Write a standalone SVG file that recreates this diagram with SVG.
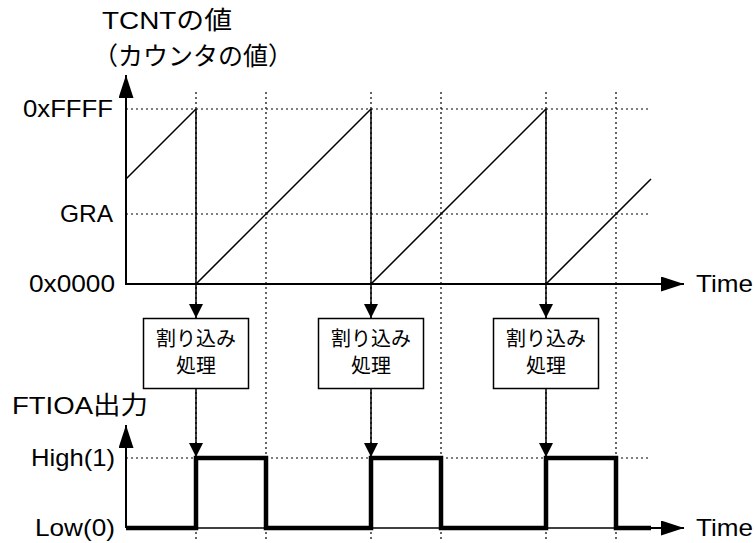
<svg xmlns="http://www.w3.org/2000/svg" width="755" height="543" viewBox="0 0 755 543">
<style>
text{font-family:"Liberation Sans","Noto Sans CJK JP",sans-serif;fill:#000}
.l{font-size:24.500px}
.r{font-size:24.500px;text-anchor:end}
.b{font-size:20px;text-anchor:middle}
.dot{fill:none;stroke:#000;stroke-width:1.2;stroke-dasharray:2 3}
.ax{fill:none;stroke:#000;stroke-width:2}
.thin{fill:none;stroke:#000;stroke-width:1.5}
.sig{fill:none;stroke:#000;stroke-width:4.500}
.box{fill:#fff;stroke:#000;stroke-width:1.5}
</style>
<defs>
<marker id="big" markerUnits="userSpaceOnUse" markerWidth="24" markerHeight="16" refX="23" refY="7.500" orient="auto"><path d="M0 0L23 7.500L0 15Z" fill="#000"/></marker>
<marker id="small" markerUnits="userSpaceOnUse" markerWidth="15" markerHeight="15" refX="14" refY="7" orient="auto"><path d="M0 0L14 7L0 14Z" fill="#000"/></marker>
</defs>
<g id="grid">
<path class="dot" d="M126 109H651M126 214H651M126 458H651"/>
<path class="dot" d="M196 92V541M266 92V541M371 92V541M441 92V541M546 92V541M616 92V541"/>
</g>
<g id="connectors">
<path class="ax" d="M126 284V75" marker-end="url(#big)"/>
<path class="ax" d="M125 284H684" marker-end="url(#big)"/>
<path class="ax" d="M126 528V425" marker-end="url(#big)"/>
<path class="thin" d="M126 528H651"/>
<path class="ax" d="M651 528H684" marker-end="url(#big)"/>
<path class="thin" d="M126 179L196 109M196 284L371 109M371 284L546 109M546 284L651 179"/>
<path class="thin" d="M196 109V318" marker-end="url(#small)"/>
<path class="thin" d="M371 109V318" marker-end="url(#small)"/>
<path class="thin" d="M546 109V318" marker-end="url(#small)"/>
<path class="thin" d="M196 388V457" marker-end="url(#small)"/>
<path class="thin" d="M371 388V457" marker-end="url(#small)"/>
<path class="thin" d="M546 388V457" marker-end="url(#small)"/>
<path class="sig" d="M126 528H196V458H266V528H371V458H441V528H546V458H616V528H651"/>
</g>
<g id="node-irq1"><rect class="box" x="143.500" y="318.500" width="105" height="70"/><text class="b" x="196" y="346">割り込み</text><text class="b" x="196" y="373">処理</text></g>
<g id="node-irq2"><rect class="box" x="318.500" y="318.500" width="105" height="70"/><text class="b" x="371" y="346">割り込み</text><text class="b" x="371" y="373">処理</text></g>
<g id="node-irq3"><rect class="box" x="493.500" y="318.500" width="105" height="70"/><text class="b" x="546" y="346">割り込み</text><text class="b" x="546" y="373">処理</text></g>
<g id="labels">
<text class="l" x="102" y="29" textLength="130" lengthAdjust="spacingAndGlyphs">TCNTの値</text>
<text class="l" x="93" y="65" style="font-size:25px">（カウンタの値）</text>
<text class="l" x="23" y="117" textLength="90" lengthAdjust="spacingAndGlyphs">0xFFFF</text>
<text class="r" x="113" y="222">GRA</text>
<text class="l" x="29" y="292" textLength="86" lengthAdjust="spacingAndGlyphs">0x0000</text>
<text class="l" x="696" y="292" textLength="57" lengthAdjust="spacingAndGlyphs">Time</text>
<text class="l" x="12" y="414" textLength="136" lengthAdjust="spacingAndGlyphs">FTIOA出力</text>
<text class="l" x="31" y="466" textLength="84" lengthAdjust="spacingAndGlyphs">High(1)</text>
<text class="l" x="35" y="536" textLength="80" lengthAdjust="spacingAndGlyphs">Low(0)</text>
<text class="l" x="696" y="536" textLength="57" lengthAdjust="spacingAndGlyphs">Time</text>
</g>
</svg>
